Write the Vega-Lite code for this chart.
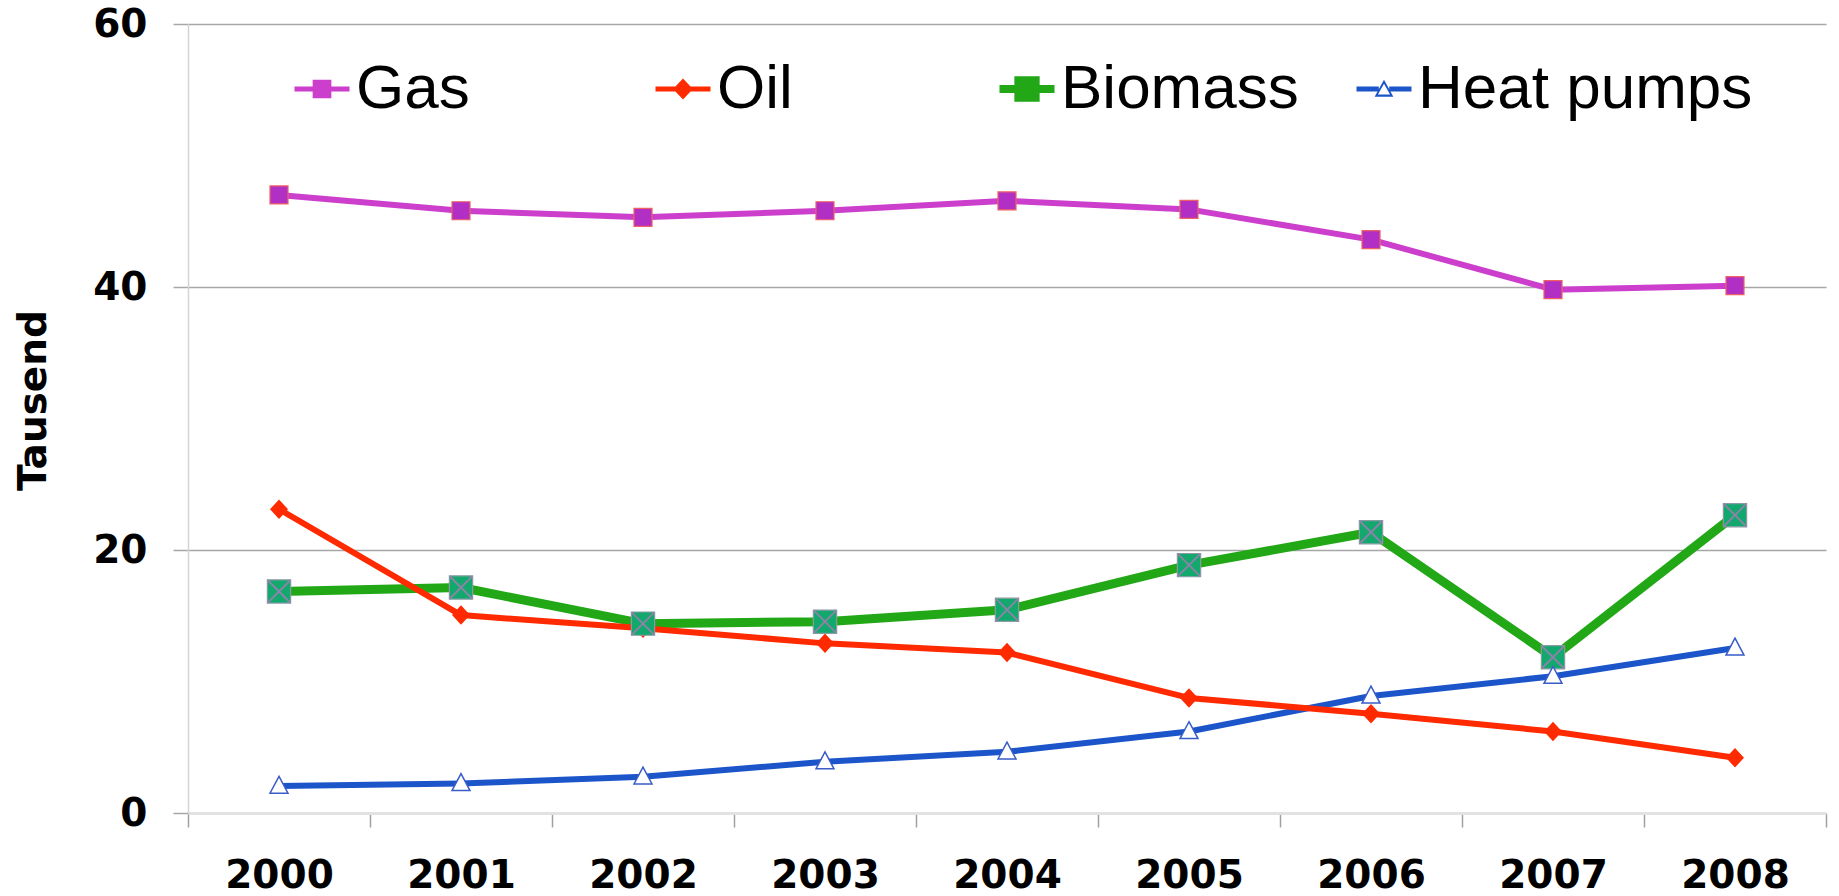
{
  "$schema": "https://vega.github.io/schema/vega-lite/v6.json",
  "width": 1638,
  "height": 789,
  "autosize": {"type": "none"},
  "padding": {"left": 188, "top": 24, "right": 13, "bottom": 83},
  "background": "white",
  "config": {"view": {"stroke": null}},
  "data": {
    "values": [
      {"year": "2000", "series": "Gas", "value": 47.0},
      {"year": "2001", "series": "Gas", "value": 45.8},
      {"year": "2002", "series": "Gas", "value": 45.3},
      {"year": "2003", "series": "Gas", "value": 45.8},
      {"year": "2004", "series": "Gas", "value": 46.55},
      {"year": "2005", "series": "Gas", "value": 45.9},
      {"year": "2006", "series": "Gas", "value": 43.6},
      {"year": "2007", "series": "Gas", "value": 39.8},
      {"year": "2008", "series": "Gas", "value": 40.1},
      {"year": "2000", "series": "Oil", "value": 23.1},
      {"year": "2001", "series": "Oil", "value": 15.05},
      {"year": "2002", "series": "Oil", "value": 14.05},
      {"year": "2003", "series": "Oil", "value": 12.9},
      {"year": "2004", "series": "Oil", "value": 12.2},
      {"year": "2005", "series": "Oil", "value": 8.75},
      {"year": "2006", "series": "Oil", "value": 7.55},
      {"year": "2007", "series": "Oil", "value": 6.2},
      {"year": "2008", "series": "Oil", "value": 4.2},
      {"year": "2000", "series": "Biomass", "value": 16.85},
      {"year": "2001", "series": "Biomass", "value": 17.15},
      {"year": "2002", "series": "Biomass", "value": 14.4},
      {"year": "2003", "series": "Biomass", "value": 14.55},
      {"year": "2004", "series": "Biomass", "value": 15.45},
      {"year": "2005", "series": "Biomass", "value": 18.85},
      {"year": "2006", "series": "Biomass", "value": 21.35},
      {"year": "2007", "series": "Biomass", "value": 11.85},
      {"year": "2008", "series": "Biomass", "value": 22.65},
      {"year": "2000", "series": "Heat pumps", "value": 2.05},
      {"year": "2001", "series": "Heat pumps", "value": 2.25},
      {"year": "2002", "series": "Heat pumps", "value": 2.75},
      {"year": "2003", "series": "Heat pumps", "value": 3.9},
      {"year": "2004", "series": "Heat pumps", "value": 4.65},
      {"year": "2005", "series": "Heat pumps", "value": 6.2},
      {"year": "2006", "series": "Heat pumps", "value": 8.9},
      {"year": "2007", "series": "Heat pumps", "value": 10.4},
      {"year": "2008", "series": "Heat pumps", "value": 12.55}
    ]
  },
  "encoding": {
    "x": {
      "field": "year",
      "type": "ordinal",
      "scale": {"type": "band", "paddingInner": 0, "paddingOuter": 0},
      "axis": {
        "title": null,
        "labelAngle": 0,
        "labelFont": "DejaVu Sans",
        "labelFontWeight": "bold",
        "labelFontSize": 39,
        "labelColor": "#000000",
        "labelPadding": 29,
        "tickBand": "extent",
        "tickSize": 14,
        "tickColor": "#a0a0a0",
        "tickWidth": 1.5,
        "domainColor": "#e2e2e2",
        "domainWidth": 3,
        "grid": false
      }
    },
    "y": {
      "field": "value",
      "type": "quantitative",
      "scale": {"domain": [0, 60], "nice": false, "zero": true},
      "axis": {
        "title": "Tausend",
        "titleFont": "DejaVu Sans",
        "titleFontWeight": "bold",
        "titleFontSize": 39,
        "titleColor": "#000000",
        "titleX": -143,
        "titleY": 376,
        "titleBaseline": "alphabetic",
        "titleAlign": "center",
        "titleAngle": 270,
        "values": [0, 20, 40, 60],
        "labelFont": "DejaVu Sans",
        "labelFontWeight": "bold",
        "labelFontSize": 39,
        "labelColor": "#000000",
        "labelPadding": 26,
        "tickSize": 15,
        "tickColor": "#a6a6a6",
        "tickWidth": 1.5,
        "domainColor": "#d4d4d4",
        "domainWidth": 1.5,
        "grid": true,
        "gridColor": {"condition": {"test": "datum.value === 0", "value": "#e2e2e2"}, "value": "#a6a6a6"},
        "gridWidth": 1.5
      }
    }
  },
  "layer": [
    {
      "transform": [{"filter": "datum.series === 'Biomass'"}],
      "mark": {"type": "line", "strokeJoin": "round", "strokeCap": "round", "strokeWidth": 9},
      "encoding": {
        "stroke": {
          "field": "series",
          "type": "nominal",
          "scale": {"domain": ["Biomass", "Heat pumps"], "range": ["#22a816", "#1c55c9"]},
          "legend": {
            "title": null,
            "orient": "none",
            "legendX": 808,
            "legendY": 34,
            "direction": "horizontal",
            "columns": 2,
            "gridAlign": "each",
            "columnPadding": 54,
            "labelFont": "Liberation Sans",
            "labelFontSize": 62,
            "labelColor": "#000000",
            "labelOffset": 3,
            "labelLimit": 1000,
            "symbolSize": 3025,
            "symbolStrokeWidth": 0,
            "encode": {
              "symbols": {
                "update": {
                  "shape": {"signal": "datum.value === 'Biomass' ? 'M-1,-0.145H1V0.145H-1Z M-0.46,-0.46H0.46V0.46H-0.46Z' : 'M-1,-0.09H-0.19V0.09H-1Z M0.19,-0.09H1V0.09H0.19Z M0,-0.34L0.34,0.28L-0.34,0.28Z M0,-0.19L-0.22,0.2L0.22,0.2Z'"},
                  "fill": {"signal": "scale('stroke', datum.value)"},
                  "strokeWidth": {"value": 0},
                  "opacity": {"value": 1}
                }
              }
            }
          }
        }
      }
    },
    {
      "transform": [{"filter": "datum.series === 'Heat pumps'"}],
      "mark": {"type": "line", "strokeJoin": "round", "strokeCap": "round", "strokeWidth": 6},
      "encoding": {
        "stroke": {
          "field": "series",
          "type": "nominal",
          "scale": {"domain": ["Biomass", "Heat pumps"], "range": ["#22a816", "#1c55c9"]},
          "legend": {
            "title": null,
            "orient": "none",
            "legendX": 808,
            "legendY": 34,
            "direction": "horizontal",
            "columns": 2,
            "gridAlign": "each",
            "columnPadding": 54,
            "labelFont": "Liberation Sans",
            "labelFontSize": 62,
            "labelColor": "#000000",
            "labelOffset": 3,
            "labelLimit": 1000,
            "symbolSize": 3025,
            "symbolStrokeWidth": 0,
            "encode": {
              "symbols": {
                "update": {
                  "shape": {"signal": "datum.value === 'Biomass' ? 'M-1,-0.145H1V0.145H-1Z M-0.46,-0.46H0.46V0.46H-0.46Z' : 'M-1,-0.09H-0.19V0.09H-1Z M0.19,-0.09H1V0.09H0.19Z M0,-0.34L0.34,0.28L-0.34,0.28Z M0,-0.19L-0.22,0.2L0.22,0.2Z'"},
                  "fill": {"signal": "scale('stroke', datum.value)"},
                  "strokeWidth": {"value": 0},
                  "opacity": {"value": 1}
                }
              }
            }
          }
        }
      }
    },
    {
      "transform": [{"filter": "datum.series === 'Gas' || datum.series === 'Oil'"}],
      "mark": {"type": "line", "strokeJoin": "round", "strokeCap": "round", "strokeWidth": 6},
      "encoding": {
        "color": {
          "field": "series",
          "type": "nominal",
          "scale": {"domain": ["Gas", "Oil"], "range": ["#cc3fcc", "#ff2a00"]},
          "legend": {
            "title": null,
            "orient": "none",
            "legendX": 103,
            "legendY": 34,
            "direction": "horizontal",
            "columns": 2,
            "gridAlign": "each",
            "columnPadding": 182,
            "labelFont": "Liberation Sans",
            "labelFontSize": 62,
            "labelColor": "#000000",
            "labelOffset": 3,
            "labelLimit": 1000,
            "symbolSize": 3025,
            "symbolStrokeWidth": 0,
            "encode": {
              "symbols": {
                "update": {
                  "shape": {"signal": "datum.value === 'Gas' ? 'M-1,-0.09H1V0.09H-1Z M-0.34,-0.34H0.34V0.34H-0.34Z' : 'M-1,-0.09H1V0.09H-1Z M0,-0.38L0.36,0L0,0.38L-0.36,0Z'"},
                  "fill": {"signal": "scale('color', datum.value)"},
                  "strokeWidth": {"value": 0},
                  "opacity": {"value": 1}
                }
              }
            }
          }
        }
      }
    },
    {
      "transform": [{"filter": "datum.series === 'Gas'"}],
      "mark": {"type": "point", "shape": "M-1.2,-1.2H1.2V1.2H-1.2Z", "size": 225, "filled": true, "fill": "#b22fc6", "stroke": "#f06060", "strokeWidth": 1.2, "opacity": 1},
      "encoding": {}
    },
    {
      "transform": [{"filter": "datum.series === 'Oil'"}],
      "mark": {"type": "point", "shape": "M0,-1.3L1.2,0L0,1.3L-1.2,0Z", "size": 225, "filled": true, "fill": "#ff2a00", "strokeWidth": 0, "opacity": 1},
      "encoding": {}
    },
    {
      "transform": [{"filter": "datum.series === 'Biomass'"}],
      "mark": {"type": "point", "shape": "M-1.55,-1.55H1.55V1.55H-1.55Z", "size": 225, "filled": true, "fill": "#12a86e", "stroke": "#8a9aa6", "strokeWidth": 1.2, "opacity": 1},
      "encoding": {}
    },
    {
      "transform": [{"filter": "datum.series === 'Biomass'"}],
      "mark": {"type": "point", "shape": "M-1.5,-1.5L1.5,1.5M-1.5,1.5L1.5,-1.5", "size": 225, "filled": false, "stroke": "#8a84a6", "strokeWidth": 2, "opacity": 1},
      "encoding": {}
    },
    {
      "transform": [{"filter": "datum.series === 'Heat pumps'"}],
      "mark": {"type": "point", "shape": "M0,-1.3L1.2,0.95L-1.2,0.95Z", "size": 225, "filled": true, "fill": "#ffffff", "stroke": "#3a5cc8", "strokeWidth": 1.5, "opacity": 1},
      "encoding": {}
    }
  ]
}
